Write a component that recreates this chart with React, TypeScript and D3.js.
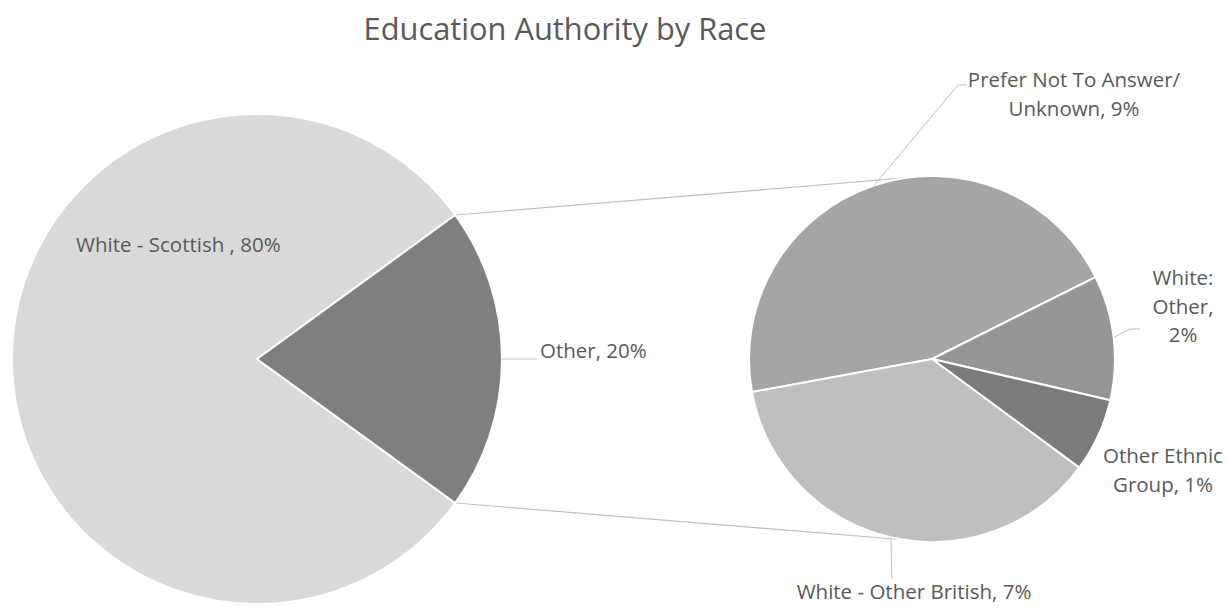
import React from 'react'
import * as d3 from 'd3'

// chart values
const mainLabels = ['White - Scottish ', 'Other']
const mainValues = [80, 20]
const subLabels = ['Prefer Not To Answer/ Unknown', 'White: Other', 'Other Ethnic Group', 'White - Other British']
const subValues = [9.1, 2.2, 1.3, 7.4]
const mainColors = ['#d9d9d9', '#7f7f7f']
const subColors = ['#a5a5a5', '#969696', '#7b7b7b', '#bfbfbf']

const W = 1226
const H = 610
const FONT = '"Open Sans", "Noto Sans", sans-serif'
const TXT = '#595959'

// layout
const main = {cx: 257, cy: 359, r: 245}
const sub = {cx: 932, cy: 359, r: 183}
const subRotation = -100.4 // deg, where the first slice of the small pie begins
const connectorAngles = [-8.4, 189] // deg on the small pie where the connectors meet it

// text lines and leader elbows for each label (offsets from the pie centre)
const subLabelLayout = [
  {x: 142, y: -272, lines: ['Prefer Not To Answer/', 'Unknown, 9%'], leader: [[26, -274], [35, -274]]},
  {x: 251, y: -74, lines: ['White:', 'Other,', '2%'], leader: [[198, -30], [208, -30]]},
  {x: 231, y: 104, lines: ['Other Ethnic', 'Group, 1%'], leader: null},
  {x: -18, y: 240, lines: ['White - Other British, 7%'], leader: [[-40, 220]]},
]

const rad = (d: number) => (d * Math.PI) / 180
const onCircle = (c: {cx: number; cy: number}, r: number, a: number) => [c.cx + r * Math.sin(a), c.cy - r * Math.cos(a)]

export default function App() {
  const total = d3.sum(mainValues) // sub values are shares of the whole too
  const otherFrac = mainValues[1] / total
  const pct = (v: number) => Math.round((v / total) * 100) + '%'

  // big pie: the "Other" slice sits centred on 3 o'clock
  const mainStart = Math.PI / 2 + otherFrac * Math.PI
  const mainArcs = d3.pie<number>().sort(null).startAngle(mainStart).endAngle(mainStart + 2 * Math.PI)(mainValues)
  const mainArc = d3.arc<d3.PieArcDatum<number>>().innerRadius(0).outerRadius(main.r)

  const subStart = rad(subRotation)
  const subArcs = d3.pie<number>().sort(null).startAngle(subStart).endAngle(subStart + 2 * Math.PI)(subValues)
  const subArc = d3.arc<d3.PieArcDatum<number>>().innerRadius(0).outerRadius(sub.r)

  const otherArc = mainArcs[1]
  const splitPts = [onCircle(main, main.r, otherArc.startAngle), onCircle(main, main.r, otherArc.endAngle)]
  const joinPts = connectorAngles.map(a => onCircle(sub, sub.r, rad(a)))

  const otherMid = onCircle(main, main.r, (otherArc.startAngle + otherArc.endAngle) / 2)
  const lineH = 28.5

  return (
    <div>
      <style>{`body{margin:0}`}</style>
      <svg width={W} height={H} style={{display: 'block'}} fontFamily={FONT}>
        <rect width={W} height={H} fill="#ffffff" />
        <text x={565} y={40} textAnchor="middle" fontSize={30.8} fill={TXT}>Education Authority by Race</text>

        {/* connectors between the pies */}
        {splitPts.map((p, i) => (
          <line key={'c' + i} x1={p[0]} y1={p[1]} x2={joinPts[i][0]} y2={joinPts[i][1]} stroke="#bfbfbf" strokeWidth={1.2} />
        ))}

        <g transform={`translate(${main.cx},${main.cy})`}>
          {mainArcs.map((a, i) => (
            <path key={i} d={mainArc(a) || ''} fill={mainColors[i]} stroke="#ffffff" strokeWidth={2} />
          ))}
        </g>
        <g transform={`translate(${sub.cx},${sub.cy})`}>
          {subArcs.map((a, i) => (
            <path key={i} d={subArc(a) || ''} fill={subColors[i]} stroke="#ffffff" strokeWidth={2} />
          ))}
        </g>

        {/* big pie labels */}
        <text x={76} y={252} fontSize={20.5} fill={TXT}>{mainLabels[0] + ', ' + pct(mainValues[0])}</text>
        <polyline points={`${otherMid[0]},${otherMid[1]} ${otherMid[0] + 35},${otherMid[1]}`} fill="none" stroke="#bfbfbf" strokeWidth={1} />
        <text x={otherMid[0] + 38} y={otherMid[1] - 1} fontSize={20.5} fill={TXT}>{mainLabels[1] + ', ' + pct(mainValues[1])}</text>

        {/* small pie labels */}
        {subArcs.map((a, i) => {
          const L = subLabelLayout[i]
          const mid = onCircle(sub, sub.r, (a.startAngle + a.endAngle) / 2)
          const pts = L.leader ? [mid, ...L.leader.map(p => [sub.cx + p[0], sub.cy + p[1]])] : null
          return (
            <g key={'l' + i}>
              {pts && <polyline points={pts.map(p => p.join(',')).join(' ')} fill="none" stroke="#bfbfbf" strokeWidth={1} />}
              <text x={sub.cx + L.x} y={sub.cy + L.y} textAnchor="middle" fontSize={20.5} fill={TXT}>
                {L.lines.map((s, j) => (
                  <tspan key={j} x={sub.cx + L.x} dy={j === 0 ? 0 : lineH}>{s}</tspan>
                ))}
              </text>
            </g>
          )
        })}
      </svg>
    </div>
  )
}
